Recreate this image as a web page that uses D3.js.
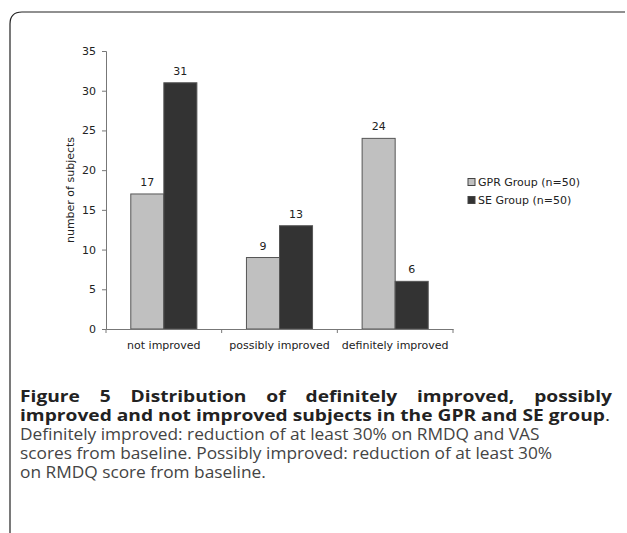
<!DOCTYPE html>
<html>
<head>
<meta charset="utf-8">
<script src="https://cdn.jsdelivr.net/npm/d3@7.9.0/dist/d3.min.js"></script>
<style>
  body { margin: 0; background: #fff; }
  svg { display: block; }
</style>
</head>
<body>
<svg id="fig" width="627" height="533"></svg>
<script>
// chart data
const categories = ['not improved', 'possibly improved', 'definitely improved'];
const groups = ['GPR Group (n=50)', 'SE Group (n=50)'];
const gprValues = [17, 9, 24];
const seValues = [31, 13, 6];
const yTicks = [0, 5, 10, 15, 20, 25, 30, 35];

const captionBold = [
  'Figure 5 Distribution of definitely improved, possibly',
  'improved and not improved subjects in the GPR and SE group'
];
const captionText = [
  'Definitely improved: reduction of at least 30% on RMDQ and VAS',
  'scores from baseline. Possibly improved: reduction of at least 30%',
  'on RMDQ score from baseline.'
];

const svg = d3.select('#fig');
const chartFont = "'DejaVu Sans', Verdana, sans-serif";

// frame with rounded top-left corner
svg.append('path')
  .attr('d', 'M10,533 L10,24 Q10,12 22,12 L625,12')
  .attr('fill', 'none')
  .attr('stroke', '#222')
  .attr('stroke-width', 1.2);

const plot = { left: 106, right: 453, top: 51, bottom: 329 };

const x0 = d3.scaleBand().domain(categories).range([plot.left, plot.right]);
const x1 = d3.scaleBand().domain(groups).range([0, x0.bandwidth()])
  .paddingInner(0).paddingOuter(0.75);
const y = d3.scaleLinear().domain([0, 35]).range([plot.bottom, plot.top]);
const fill = d3.scaleOrdinal().domain(groups).range(['#c0c0c0', '#333333']);

const rows = categories.map((c, i) => ({ cat: c, vals: [gprValues[i], seValues[i]] }));

const bars = svg.append('g');
rows.forEach(r => {
  r.vals.forEach((v, j) => {
    const g = groups[j];
    const bx = x0(r.cat) + x1(g);
    bars.append('rect')
      .attr('x', bx)
      .attr('y', y(v))
      .attr('width', x1.bandwidth())
      .attr('height', y(0) - y(v))
      .attr('fill', fill(g))
      .attr('stroke', '#555')
      .attr('stroke-width', 1);
    bars.append('text')
      .attr('x', bx + x1.bandwidth() / 2)
      .attr('y', y(v) - 8)
      .attr('text-anchor', 'middle')
      .attr('font-family', chartFont)
      .attr('font-size', 11)
      .attr('fill', '#222')
      .text(v);
  });
});

// y axis
const yAxis = svg.append('g')
  .attr('transform', `translate(${plot.left},0)`)
  .call(d3.axisLeft(y).tickValues(yTicks).tickSize(4).tickPadding(6));
yAxis.select('.domain').attr('stroke', '#777');
yAxis.selectAll('.tick line').attr('stroke', '#777');
yAxis.selectAll('text').attr('font-family', chartFont).attr('font-size', 11).attr('fill', '#222');

// x axis with ticks at category boundaries
const xAxis = svg.append('g')
  .attr('transform', `translate(0,${plot.bottom})`)
  .call(d3.axisBottom(x0).tickSize(0).tickPadding(12));
xAxis.select('.domain').attr('stroke', '#777');
xAxis.selectAll('text').attr('font-family', chartFont).attr('font-size', 11).attr('fill', '#222');
const bounds = categories.map(c => x0(c)).concat([x0(categories[categories.length - 1]) + x0.bandwidth()]);
xAxis.selectAll('.bound').data(bounds).join('line')
  .attr('class', 'bound')
  .attr('x1', d => d).attr('x2', d => d)
  .attr('y1', 0).attr('y2', 4)
  .attr('stroke', '#777');

// y axis title
svg.append('text')
  .attr('transform', `translate(74,${(plot.top + plot.bottom) / 2}) rotate(-90)`)
  .attr('text-anchor', 'middle')
  .attr('font-family', chartFont)
  .attr('font-size', 11)
  .attr('fill', '#222')
  .text('number of subjects');

// legend
const legend = svg.append('g').attr('transform', 'translate(468,182)');
groups.forEach((g, i) => {
  const row = legend.append('g').attr('transform', `translate(0,${i * 18})`);
  row.append('rect')
    .attr('x', 0).attr('y', -3.5)
    .attr('width', 7).attr('height', 7)
    .attr('fill', fill(g))
    .attr('stroke', '#444');
  row.append('text')
    .attr('x', 10).attr('y', 4)
    .attr('font-family', chartFont)
    .attr('font-size', 11)
    .attr('fill', '#222')
    .text(g);
});

// caption: wide face imitated by stretching Open Sans horizontally
const capLeft = 20, capRight = 612, lineH = 19, capTop = 402;
const boldWidth = 585, descWidth = 520;

const boldG = svg.append('g')
  .attr('font-family', "'Open Sans'")
  .attr('font-weight', 'bold')
  .attr('font-size', 15.5)
  .attr('fill', '#222');
const descG = svg.append('g')
  .attr('font-family', "'Open Sans'")
  .attr('font-size', 15.5)
  .attr('fill', '#444');

// second bold line sets the horizontal stretch of the bold face
const l2 = boldG.append('text').attr('x', 0).attr('y', capTop + lineH);
const l2main = l2.append('tspan').text(captionBold[1]);
l2.append('tspan').attr('font-weight', 'normal').text('.');
const sb = boldWidth / l2main.node().getComputedTextLength();
boldG.attr('transform', `translate(${capLeft},0) scale(${sb},1)`);

// first bold line is justified
const words = captionBold[0].split(' ');
const spans = words.map(w => boldG.append('text').attr('y', capTop).text(w));
const widths = spans.map(s => s.node().getComputedTextLength());
const span = (capRight - capLeft) / sb;
const gap = (span - d3.sum(widths)) / (words.length - 1);
let xp = 0;
spans.forEach((s, i) => { s.attr('x', xp); xp += widths[i] + gap; });

descG.selectAll('text').data(captionText).join('text')
  .attr('x', 0)
  .attr('y', (d, i) => capTop + lineH * (i + 2))
  .text(d => d);
const sd = descWidth / descG.select('text').node().getComputedTextLength();
descG.attr('transform', `translate(${capLeft},0) scale(${sd},1)`);
</script>
</body>
</html>
